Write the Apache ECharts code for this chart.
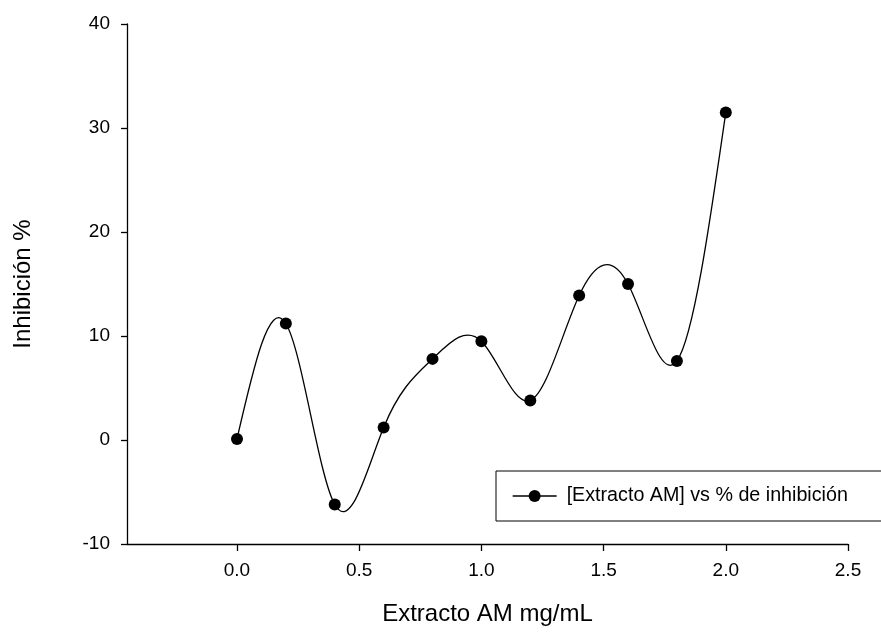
<!DOCTYPE html>
<html>
<head>
<meta charset="utf-8">
<script src="https://cdn.jsdelivr.net/npm/echarts@6/dist/echarts.min.js"></script>
<style>
html,body{margin:0;padding:0;background:#fff;}
#chart{width:881px;height:633px;}
</style>
</head>
<body>
<div id="chart"></div>
<script>
const concentrations = [0.0, 0.2, 0.4, 0.6, 0.8, 1.0, 1.2, 1.4, 1.6, 1.8, 2.0];
const inhibition = [0.1, 11.2, -6.2, 1.2, 7.8, 9.5, 3.8, 13.9, 15.0, 7.6, 31.5];
const xTicks = [0.0, 0.5, 1.0, 1.5, 2.0, 2.5];
const yTicks = [-10, 0, 10, 20, 30, 40];
const seriesName = '[Extracto AM] vs % de inhibición';
const xTitle = 'Extracto AM mg/mL';
const yTitle = 'Inhibición %';

const font = '"Liberation Sans", Arial, sans-serif';
const points = concentrations.map((x, i) => [x, inhibition[i]]);

// Natural cubic spline through pixel positions (curve rendering of the data points)
function splinePath(px) {
  const n = px.length;
  const xs = px.map(p => p[0]), ys = px.map(p => p[1]);
  const h = [], a = [], b = [], c = [], d = [];
  for (let i = 0; i < n - 1; i++) h.push(xs[i + 1] - xs[i]);
  // Solve for second derivatives M (natural: M0 = Mn-1 = 0)
  const M = new Array(n).fill(0);
  const sub = [], diag = [], sup = [], rhs = [];
  for (let i = 1; i < n - 1; i++) {
    sub.push(h[i - 1]);
    diag.push(2 * (h[i - 1] + h[i]));
    sup.push(h[i]);
    rhs.push(6 * ((ys[i + 1] - ys[i]) / h[i] - (ys[i] - ys[i - 1]) / h[i - 1]));
  }
  const m = diag.length;
  for (let i = 1; i < m; i++) {
    const w = sub[i] / diag[i - 1];
    diag[i] -= w * sup[i - 1];
    rhs[i] -= w * rhs[i - 1];
  }
  const sol = new Array(m);
  for (let i = m - 1; i >= 0; i--) {
    sol[i] = (rhs[i] - (i < m - 1 ? sup[i] * sol[i + 1] : 0)) / diag[i];
  }
  for (let i = 0; i < m; i++) M[i + 1] = sol[i];
  // slopes at nodes
  const slope = (i) => {
    if (i < n - 1) return (ys[i + 1] - ys[i]) / h[i] - h[i] * (2 * M[i] + M[i + 1]) / 6;
    return (ys[i] - ys[i - 1]) / h[i - 1] + h[i - 1] * (M[i - 1] + 2 * M[i]) / 6;
  };
  let path = 'M' + xs[0] + ' ' + ys[0];
  for (let i = 0; i < n - 1; i++) {
    const s0 = slope(i), s1 = slope(i + 1), hh = h[i] / 3;
    path += ' C' + (xs[i] + hh) + ' ' + (ys[i] + s0 * hh) + ' ' +
      (xs[i + 1] - hh) + ' ' + (ys[i + 1] - s1 * hh) + ' ' + xs[i + 1] + ' ' + ys[i + 1];
  }
  return path;
}

const chart = echarts.init(document.getElementById('chart'), null, {renderer: 'canvas'});
chart.setOption({
  animation: false,
  backgroundColor: '#fff',
  grid: {left: 127, right: 33, top: 24, bottom: 89, containLabel: false},
  legend: {
    left: 496, top: 471,
    padding: [15, 40, 15, 16],
    borderColor: '#000', borderWidth: 1,
    itemWidth: 44, itemHeight: 15, itemGap: 0,
    textStyle: {fontFamily: font, fontSize: 19.7, color: '#000', padding: [0, 0, 0, 5]},
    data: [{name: seriesName, lineStyle: {color: '#000', width: 1.3, opacity: 1}}]
  },
  xAxis: {
    type: 'value',
    min: -0.45, max: 2.5,
    name: xTitle, nameLocation: 'middle', nameGap: 58,
    nameTextStyle: {fontFamily: font, fontSize: 24, color: '#000'},
    splitLine: {show: false},
    axisLine: {show: true, onZero: false, lineStyle: {color: '#000', width: 1.3}},
    axisTick: {show: true, inside: false, length: 7, customValues: xTicks, lineStyle: {color: '#000', width: 1.3}},
    axisLabel: {customValues: xTicks, margin: 17, fontFamily: font, fontSize: 19, color: '#000',
      formatter: v => Number(v).toFixed(1)}
  },
  yAxis: {
    type: 'value',
    min: -10, max: 40, interval: 10,
    name: yTitle, nameLocation: 'middle', nameGap: 92, nameRotate: 90,
    nameTextStyle: {fontFamily: font, fontSize: 24, color: '#000'},
    splitLine: {show: false},
    axisLine: {show: true, onZero: false, lineStyle: {color: '#000', width: 1.3}},
    axisTick: {show: true, inside: false, length: 6, lineStyle: {color: '#000', width: 1.3}},
    axisLabel: {margin: 17, fontFamily: font, fontSize: 19, color: '#000',
      customValues: yTicks}
  },
  series: [{
    name: seriesName,
    type: 'line',
    data: points,
    symbol: 'circle', symbolSize: 12,
    itemStyle: {color: '#000'},
    lineStyle: {color: '#000', width: 0, opacity: 0},
    z: 3
  }, {
    name: 'curve',
    type: 'custom',
    data: points,
    silent: true,
    z: 2,
    renderItem: function (params, api) {
      if (params.dataIndex !== 0) return null;
      const px = points.map(p => api.coord(p));
      return {
        type: 'path',
        shape: {pathData: splinePath(px)},
        style: {fill: null, stroke: '#000', lineWidth: 1.3}
      };
    }
  }]
});
</script>
</body>
</html>
